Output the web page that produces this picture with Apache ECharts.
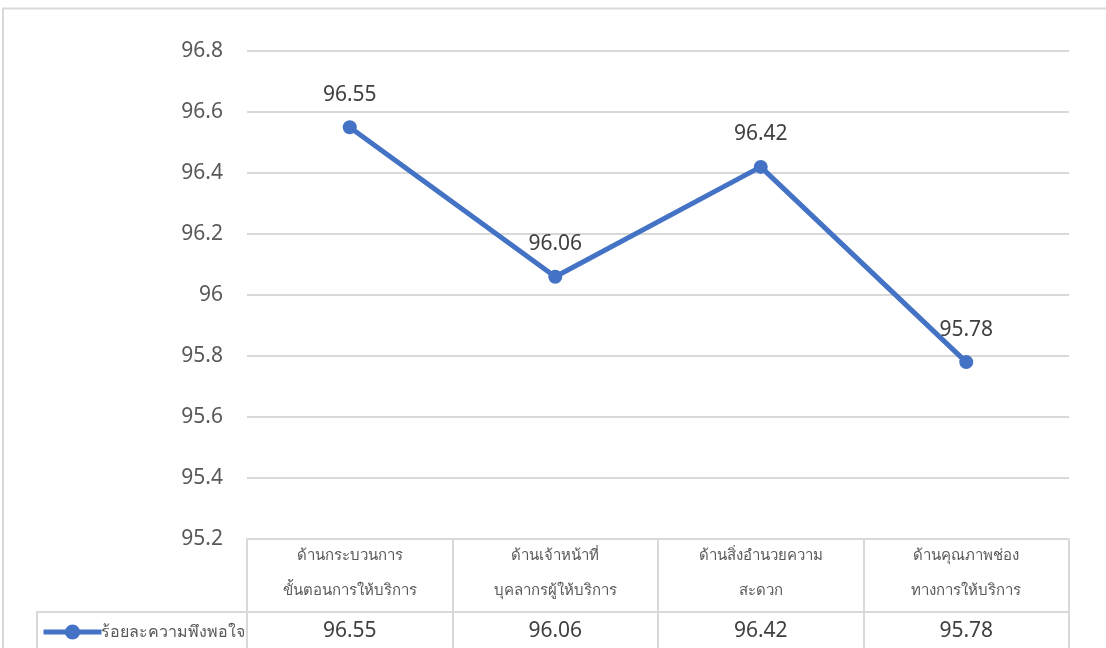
<!DOCTYPE html>
<html>
<head>
<meta charset="utf-8">
<script src="https://cdn.jsdelivr.net/npm/echarts@6/dist/echarts.min.js"></script>
<style>
html,body{margin:0;padding:0;background:#fff;}
#c{width:1106px;height:648px;}
</style>
</head>
<body>
<div id="c"></div>
<script>
const categories = ['ด้านกระบวนการ\nขั้นตอนการให้บริการ', 'ด้านเจ้าหน้าที่\nบุคลากรผู้ให้บริการ', 'ด้านสิ่งอำนวยความ\nสะดวก', 'ด้านคุณภาพช่อง\nทางการให้บริการ'];
const seriesName = 'ร้อยละความพึงพอใจ';
const values = [96.55, 96.06, 96.42, 95.78];
const yTicks = { min: 95.2, max: 96.8, interval: 0.2 };

const FONT = "'Noto Sans', 'DejaVu Sans', sans-serif";
const GRID_COLOR = '#d9d9d9';
const chart = echarts.init(document.getElementById('c'), null, { renderer: 'canvas' });
chart.setOption({
  animation: false,
  backgroundColor: '#fff',
  textStyle: { fontFamily: FONT },
  grid: { left: 247, right: 37, top: 51, bottom: 109, containLabel: false },
  legend: {
    left: 36, top: 619,
    itemWidth: 58, itemHeight: 19,
    itemGap: 0,
    data: [seriesName],
    lineStyle: { width: 5 },
    textStyle: { fontSize: 16, color: '#595959', fontFamily: FONT, padding: [0, 0, 0, -6] }
  },
  xAxis: [{
    type: 'category',
    data: categories,
    boundaryGap: true,
    axisLine: { show: true, lineStyle: { color: GRID_COLOR, width: 2 } },
    axisTick: { show: true, length: 73, lineStyle: { color: GRID_COLOR, width: 2 } },
    axisLabel: { fontSize: 15, color: '#595959', lineHeight: 35, margin: -1, interval: 0, fontFamily: FONT }
  }, {
    type: 'category',
    position: 'bottom',
    offset: 73,
    data: categories,
    boundaryGap: true,
    axisLine: { show: true, lineStyle: { color: GRID_COLOR, width: 2 } },
    axisTick: { show: true, length: 40, lineStyle: { color: GRID_COLOR, width: 2 } },
    axisLabel: {
      fontSize: 21, color: '#404040', margin: 9, interval: 0, fontFamily: FONT,
      formatter: (v, i) => values[i].toFixed(2)
    }
  }],
  yAxis: {
    type: 'value',
    min: yTicks.min, max: yTicks.max, interval: yTicks.interval,
    axisLine: { show: false },
    axisTick: { show: false },
    splitLine: { lineStyle: { color: GRID_COLOR, width: 2 } },
    axisLabel: { fontSize: 21, color: '#595959', margin: 24, fontFamily: FONT }
  },
  series: [{
    name: seriesName,
    type: 'line',
    xAxisIndex: 0,
    data: values,
    symbol: 'circle',
    symbolSize: 14,
    lineStyle: { color: '#4472C4', width: 5 },
    itemStyle: { color: '#4472C4' },
    label: {
      show: true, position: 'top', distance: 15,
      fontSize: 21, color: '#404040', fontFamily: FONT,
      formatter: p => p.value.toFixed(2)
    }
  }],
  graphic: [
    { type: 'rect', shape: { x: 3, y: 8.5, width: 1200, height: 700 }, style: { fill: 'none', stroke: GRID_COLOR, lineWidth: 2 }, silent: true, z: -1 },
    { type: 'line', shape: { x1: 37, y1: 612, x2: 247, y2: 612 }, style: { stroke: GRID_COLOR, lineWidth: 2 }, silent: true },
    { type: 'line', shape: { x1: 37, y1: 611, x2: 37, y2: 660 }, style: { stroke: GRID_COLOR, lineWidth: 2 }, silent: true }
  ]
});
</script>
</body>
</html>
